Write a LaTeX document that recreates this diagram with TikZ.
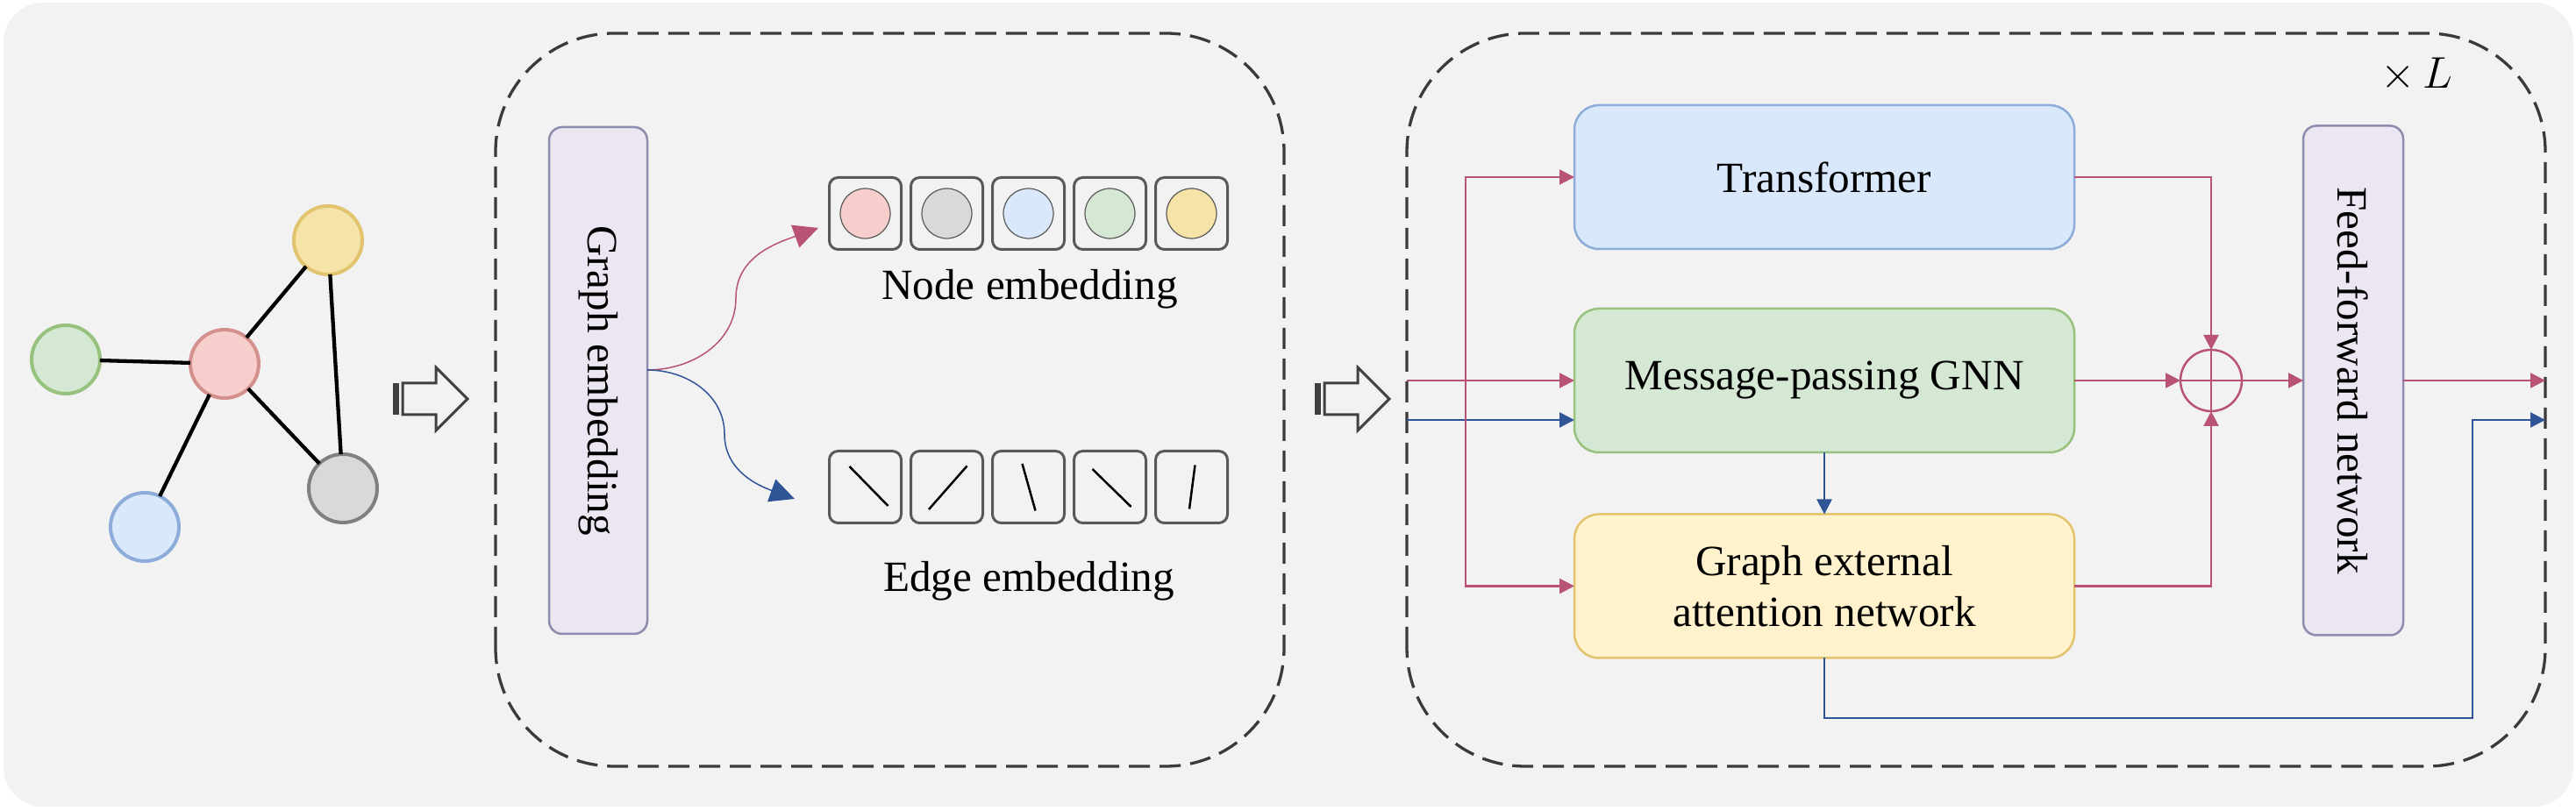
\documentclass[tikz,border=0pt]{standalone}
\usepackage{fontspec}
\setmainfont{Liberation Serif}
\usetikzlibrary{arrows.meta}

\definecolor{bgcol}{HTML}{F2F2F2}
\definecolor{dashcol}{HTML}{3A3A3A}
\definecolor{redfill}{HTML}{F8CECC}
\definecolor{redline}{HTML}{D4908C}
\definecolor{greenfill}{HTML}{D5E8D4}
\definecolor{greenline}{HTML}{97C27D}
\definecolor{bluefill}{HTML}{DAE8FC}
\definecolor{blueline}{HTML}{8EACD9}
\definecolor{yellowfill}{HTML}{F6E3A8}
\definecolor{yellowline}{HTML}{E3C46E}
\definecolor{creamfill}{HTML}{FFF2CC}
\definecolor{grayfill}{HTML}{D9D9D9}
\definecolor{grayline}{HTML}{808080}
\definecolor{purplefill}{HTML}{ECE6F2}
\definecolor{purpleline}{HTML}{8E8CAE}
\definecolor{cellline}{HTML}{595959}
\definecolor{arrred}{HTML}{B85373}
\definecolor{arrblue}{HTML}{2F5597}
\definecolor{hollowcol}{HTML}{404040}

\begin{document}
\begin{tikzpicture}[
  every node/.style={font=\fontsize{14}{16.5}\selectfont, inner sep=0pt, outer sep=0pt},
  gnode/.style={circle, minimum size=0.78cm, line width=0.04cm},
  gedge/.style={black, line width=0.043cm},
  hollow/.style={draw=hollowcol, fill=bgcol, line width=0.03cm, line join=miter},
  panel/.style={draw=dashcol, line width=0.033cm, dash pattern=on 0.24cm off 0.11cm, rounded corners=1.35cm},
  purplebox/.style={draw=purpleline, fill=purplefill, line width=0.025cm, rounded corners=0.15cm},
  block/.style={line width=0.025cm, rounded corners=0.28cm, minimum width=5.70cm, minimum height=1.64cm, align=center},
  cell/.style={draw=cellline, line width=0.03cm, rounded corners=0.1cm, minimum size=0.82cm},
  dot/.style={circle, draw=cellline, line width=0.012cm, minimum size=0.57cm},
  eline/.style={black, line width=0.025cm},
  curvearrow/.style={line width=0.015cm, -{Triangle[length=0.28cm,width=0.27cm]}},
  rarrow/.style={arrred, line width=0.025cm, -{Triangle[length=0.17cm,width=0.17cm]}},
  barrow/.style={arrblue, line width=0.025cm, -{Triangle[length=0.17cm,width=0.17cm]}},
  rline/.style={arrred, line width=0.025cm}
]
\useasboundingbox (0,0) rectangle (29.37,9.25);
\fill[bgcol, rounded corners=0.45cm] (0.04,0.05) rectangle (29.34,9.22);

% input graph
\node[gnode, draw=greenline, fill=greenfill] (g) at (0.75,5.15) {};
\node[gnode, draw=redline, fill=redfill] (r) at (2.56,5.10) {};
\node[gnode, draw=yellowline, fill=yellowfill] (y) at (3.74,6.51) {};
\node[gnode, draw=blueline, fill=bluefill] (b) at (1.65,3.24) {};
\node[gnode, draw=grayline, fill=grayfill] (k) at (3.91,3.68) {};
\draw[gedge] (g) -- (r);
\draw[gedge] (r) -- (y);
\draw[gedge] (r) -- (b);
\draw[gedge] (r) -- (k);
\draw[gedge] (y) -- (k);

\fill[hollowcol] (4.48,4.52) rectangle (4.55,4.88);
\draw[hollow] (4.59,4.52) -- (4.97,4.52) -- (4.97,4.34) -- (5.33,4.70) -- (4.97,5.06) -- (4.97,4.88) -- (4.59,4.88) -- cycle;

% embedding panel
\draw[panel] (5.65,0.51) rectangle (14.64,8.87);
\node[purplebox, minimum width=1.12cm, minimum height=5.78cm] (gemb) at (6.82,4.91) {\rotatebox{-90}{Graph embedding}};

\node[cell] (n1) at (9.865,6.815) {};
\node[cell] (n2) at (10.795,6.815) {};
\node[cell] (n3) at (11.725,6.815) {};
\node[cell] (n4) at (12.655,6.815) {};
\node[cell] (n5) at (13.585,6.815) {};
\node[dot, fill=redfill] at (n1) {};
\node[dot, fill=grayfill] at (n2) {};
\node[dot, fill=bluefill] at (n3) {};
\node[dot, fill=greenfill] at (n4) {};
\node[dot, fill=yellowfill] at (n5) {};
\node (nlab) at (11.74,5.95) {Node embedding};

\node[cell] (e1) at (9.865,3.695) {};
\node[cell] (e2) at (10.795,3.695) {};
\node[cell] (e3) at (11.725,3.695) {};
\node[cell] (e4) at (12.655,3.695) {};
\node[cell] (e5) at (13.585,3.695) {};
\draw[eline] ([shift={(-0.18,0.235)}]e1.center) -- ([shift={(0.26,-0.215)}]e1.center);
\draw[eline] ([shift={(0.23,0.24)}]e2.center) -- ([shift={(-0.205,-0.255)}]e2.center);
\draw[eline] ([shift={(-0.07,0.265)}]e3.center) -- ([shift={(0.08,-0.27)}]e3.center);
\draw[eline] ([shift={(-0.20,0.205)}]e4.center) -- ([shift={(0.24,-0.225)}]e4.center);
\draw[eline] ([shift={(0.04,0.25)}]e5.center) -- ([shift={(-0.025,-0.25)}]e5.center);
\node (elab) at (11.73,2.62) {Edge embedding};

\coordinate (gout) at ([yshift=0.12cm]gemb.east);
\coordinate (ntip) at (9.33,6.65);
\coordinate (etip) at (9.06,3.56);
\draw[curvearrow, arrred] (gout) to[out=0,in=-90] (8.39,5.85) to[out=90,in=200] (ntip);
\draw[curvearrow, arrblue] (gout) to[out=0,in=90] (8.26,4.30) to[out=-90,in=160] (etip);

\fill[hollowcol] (14.99,4.52) rectangle (15.06,4.88);
\draw[hollow] (15.10,4.52) -- (15.48,4.52) -- (15.48,4.34) -- (15.84,4.70) -- (15.48,5.06) -- (15.48,4.88) -- (15.10,4.88) -- cycle;

% encoder layer
\draw[panel] (16.04,0.51) rectangle (29.02,8.87);
\node at (27.55,8.40) {$\times\, L$};

\node[block, draw=blueline, fill=bluefill] (trans) at (20.80,7.23) {Transformer};
\node[block, draw=greenline, fill=greenfill] (gnn) at (20.80,4.91) {Message-passing GNN};
\node[block, draw=yellowline, fill=creamfill] (gean) at (20.80,2.565) {Graph external\\attention network};
\node[purplebox, minimum width=1.14cm, minimum height=5.81cm] (ffn) at (26.83,4.91) {\rotatebox{-90}{Feed-forward network}};
\node[circle, draw=arrred, line width=0.025cm, minimum size=0.70cm] (plus) at (25.21,4.91) {};
\draw[rline] (plus.north) -- (plus.south) (plus.west) -- (plus.east);

\coordinate (inr) at (16.04,4.91);
\coordinate (inb) at (16.04,4.46);
\coordinate (split) at (16.71,4.91);
\coordinate (outr) at (29.02,4.91);
\coordinate (outb) at (29.02,4.46);
\coordinate (turn) at (28.19,1.06);

\draw[rarrow] (inr) -- (gnn.west);
\draw[barrow] (inb) -- (inb -| gnn.west);
\draw[rarrow] (split) |- (trans.west);
\draw[rarrow] (split) |- (gean.west);
\draw[barrow] (gnn.south) -- (gean.north);
\draw[rarrow] (trans.east) -| (plus.north);
\draw[rarrow] (gnn.east) -- (plus.west);
\draw[rarrow] (gean.east) -| (plus.south);
\draw[rarrow] (plus.east) -- (ffn.west);
\draw[rarrow] (ffn.east) -- (outr);
\draw[barrow] (gean.south) |- (turn) |- (outb);
\end{tikzpicture}
\end{document}
